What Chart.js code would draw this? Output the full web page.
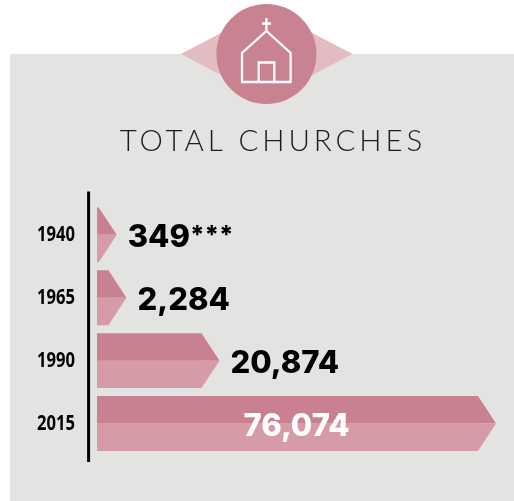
<!DOCTYPE html>
<html><head><meta charset="utf-8">
<style>html,body{margin:0;padding:0;background:#fff}canvas{display:block}</style>
<script src="https://cdn.jsdelivr.net/npm/chart.js@4"></script>
</head><body><canvas id="c" width="514" height="501"></canvas>
<script>
const years = ["1940", "1965", "1990", "2015"];
const churches = [349, 2284, 20874, 76074];
const valueLabels = ["349", "2,284", "20,874", "76,074"];
const footnoteMarks = ["***", "", "", ""];
const titleText = "TOTAL CHURCHES";

const colors = {panel:"#e3e3e1", diamond:"#e2bcc1", circle:"#c98290", dark:"#c98190", light:"#d59ca8"};
const TIP = 18;
const TICK_RIGHT = 75, TICK_SQUEEZE = 0.79;

const decor = {
  id:"decor",
  afterLayout(chart){
    chart.titleBlock.left = 32;
    chart.titleBlock.right = 514;
  },
  beforeDraw(chart){
    const c = chart.ctx;
    c.save();
    c.fillStyle = "#fff"; c.fillRect(0,0,514,501);
    c.fillStyle = colors.panel; c.fillRect(10,54,504,447);
    c.fillStyle = colors.diamond;
    c.beginPath(); c.moveTo(181,54); c.lineTo(266.5,9); c.lineTo(352.5,54); c.lineTo(266.5,99); c.closePath(); c.fill();
    c.fillStyle = colors.circle;
    c.beginPath(); c.arc(266.4,54,50,0,Math.PI*2); c.fill();
    c.strokeStyle = "#fff"; c.lineWidth = 2.3; c.lineJoin = "miter";
    c.beginPath();
    c.moveTo(242,82); c.lineTo(242,53); c.lineTo(266.4,31); c.lineTo(290.6,53); c.lineTo(290.6,82); c.closePath();
    c.moveTo(258.7,82); c.lineTo(258.7,62.5); c.lineTo(274.3,62.5); c.lineTo(274.3,82);
    c.moveTo(266.4,18); c.lineTo(266.4,31);
    c.moveTo(262,23.5); c.lineTo(271,23.5);
    c.stroke();
    c.restore();
    c.letterSpacing = "3.9px";
  },
  beforeDatasetsDraw(chart){
    chart.ctx.letterSpacing = "0px";
  },
  afterDatasetsDraw(chart){
    const c = chart.ctx;
    const area = chart.chartArea;
    c.save();
    c.strokeStyle = "#000"; c.lineWidth = 3;
    c.beginPath(); c.moveTo(88.6, area.top-12); c.lineTo(88.6, area.bottom+7); c.stroke();
    const top = chart.getDatasetMeta(0).data, bottom = chart.getDatasetMeta(1).data;
    const biggest = Math.max(...churches);
    top.forEach((b,i)=>{
      const lo = bottom[i], mid = (b.y+lo.y)/2, h = b.height;
      c.fillStyle = colors.dark;
      c.beginPath(); c.moveTo(b.x-0.5,mid-h); c.lineTo(b.x,mid-h); c.lineTo(b.x+TIP,mid); c.lineTo(b.x-0.5,mid); c.closePath(); c.fill();
      c.fillStyle = colors.light;
      c.beginPath(); c.moveTo(b.x-0.5,mid); c.lineTo(b.x+TIP,mid); c.lineTo(b.x,mid+h); c.lineTo(b.x-0.5,mid+h); c.closePath(); c.fill();
      c.font = "800 31px Inter";
      c.textBaseline = "middle";
      const inside = churches[i] === biggest;
      c.fillStyle = inside ? "#fff" : "#000";
      c.textAlign = inside ? "center" : "left";
      const px = inside ? (b.base + b.x + TIP)/2 : b.x + TIP + 11;
      c.fillText(valueLabels[i], px, mid + 3);
      if (footnoteMarks[i]) {
        const w = c.measureText(valueLabels[i]).width;
        c.font = "800 25px Inter";
        c.fillText(footnoteMarks[i], px + w, mid + 1);
      }
    });
    c.restore();
    // the y-axis tick labels are drawn next (ticks.z = 1): narrow them about their right edge
    c.setTransform(TICK_SQUEEZE,0,0,1,TICK_RIGHT*(1-TICK_SQUEEZE),0);
  },
  afterDraw(chart){
    chart.ctx.setTransform(1,0,0,1,0,0);
  }
};

new Chart(document.getElementById("c"), {
  type:"bar",
  plugins:[decor],
  data:{
    labels:years,
    datasets:[
      {data:churches, backgroundColor:colors.dark},
      {data:churches, backgroundColor:colors.light}
    ]
  },
  options:{
    indexAxis:"y",
    responsive:false,
    animation:false,
    devicePixelRatio:1,
    layout:{padding:{left:0,right:36,top:0,bottom:46}},
    datasets:{bar:{categoryPercentage:0.873,barPercentage:1}},
    plugins:{
      legend:{display:false},
      tooltip:{enabled:false},
      title:{
        display:true,
        text:titleText,
        color:"#1c1c1c",
        font:{family:"Lato",weight:"300",size:29.5,lineHeight:1.2},
        padding:{top:124,bottom:44}
      }
    },
    scales:{
      x:{display:false,min:0,max:Math.max(...churches),grid:{display:false}},
      y:{
        afterFit(s){ s.width = 97; },
        grid:{display:false},
        border:{display:false},
        ticks:{
          z:1,
          color:"#000",padding:14,
          font:{family:"'Open Sans'",weight:"bold",size:21}
        }
      }
    }
  }
});
</script></body></html>
